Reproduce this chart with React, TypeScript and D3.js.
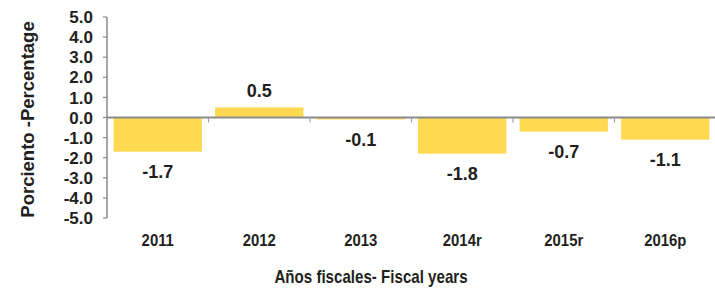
import React from 'react';
import * as d3 from 'd3';

// datos del gráfico
const years = ['2011', '2012', '2013', '2014r', '2015r', '2016p'];
const values = [-1.7, 0.5, -0.1, -1.8, -0.7, -1.1];
const yTicks = [5, 4, 3, 2, 1, 0, -1, -2, -3, -4, -5];

const W = 715;
const H = 295;
const margin = { top: 17, right: 0, bottom: 77, left: 107 };
const font = '"Liberation Sans", Arial, sans-serif';
const ink = '#231f20';

const App = () => {
  const x = d3
    .scaleBand<string>()
    .domain(years)
    .range([margin.left, 716])
    .paddingInner(0.13)
    .paddingOuter(0.065);
  const y = d3.scaleLinear().domain([-5, 5]).range([H - margin.bottom, margin.top]);
  const y0 = y(0);
  const step = x.step();
  const bounds = years.slice(1).map((d) => (x(d) as number) - (step * 0.13) / 2);

  return (
    <svg width={W} height={H} style={{ position: 'absolute', left: 0, top: 0 }} fontFamily={font}>
      {/* barras */}
      {years.map((d, i) => (
        <rect
          key={d}
          x={x(d)}
          width={x.bandwidth()}
          y={Math.min(y(values[i]), y0)}
          height={Math.abs(y(values[i]) - y0)}
          fill="#FFD950"
        />
      ))}
      {/* eje y */}
      <line x1={margin.left} x2={margin.left} y1={y(5)} y2={y(-5)} stroke="#8a8a8a" strokeWidth={1.5} />
      {yTicks.map((t) => (
        <g key={t}>
          <line x1={margin.left - 4} x2={margin.left} y1={y(t)} y2={y(t)} stroke="#8a8a8a" strokeWidth={1.2} />
          <text
            x={margin.left - 14}
            y={y(t)}
            dy="0.36em"
            textAnchor="end"
            fontSize={17}
            fontWeight="bold"
            fill={ink}
          >
            {t.toFixed(1)}
          </text>
        </g>
      ))}
      {/* eje x en cero */}
      <line x1={margin.left} x2={W} y1={y0} y2={y0} stroke="#8a8a8a" strokeWidth={2} />
      {bounds.map((b, i) => (
        <line key={i} x1={b} x2={b} y1={y0} y2={y0 + 5} stroke="#a0a0a0" strokeWidth={1.2} />
      ))}
      {/* etiquetas de valores */}
      {years.map((d, i) => {
        const v = values[i];
        const cx = (x(d) as number) + x.bandwidth() / 2;
        const yy = v >= 0 ? y(v) - 17 : y(v) + 20;
        return (
          <text key={d} x={cx} y={yy} dy="0.36em" textAnchor="middle" fontSize={18} fontWeight="bold" fill={ink}>
            {v.toFixed(1)}
          </text>
        );
      })}
      {/* categorías */}
      {years.map((d) => (
        <text
          key={d}
          transform={`translate(${(x(d) as number) + x.bandwidth() / 2},240) scale(0.93,1)`}
          dy="0.36em"
          textAnchor="middle"
          fontSize={16}
          fontWeight="bold"
          fill={ink}
        >
          {d}
        </text>
      ))}
      {/* títulos */}
      <text
        transform="translate(371,277) scale(0.84,1)"
        dy="0.36em"
        textAnchor="middle"
        fontSize={18}
        fontWeight="bold"
        fill={ink}
      >
        Años fiscales- Fiscal years
      </text>
      <text
        transform={`translate(27,${y(0) + 2}) rotate(-90)`}
        textAnchor="middle"
        dy="0.36em"
        fontSize={18.5}
        fontWeight="bold"
        fill={ink}
      >
        Porciento -Percentage
      </text>
    </svg>
  );
};

export default App;
